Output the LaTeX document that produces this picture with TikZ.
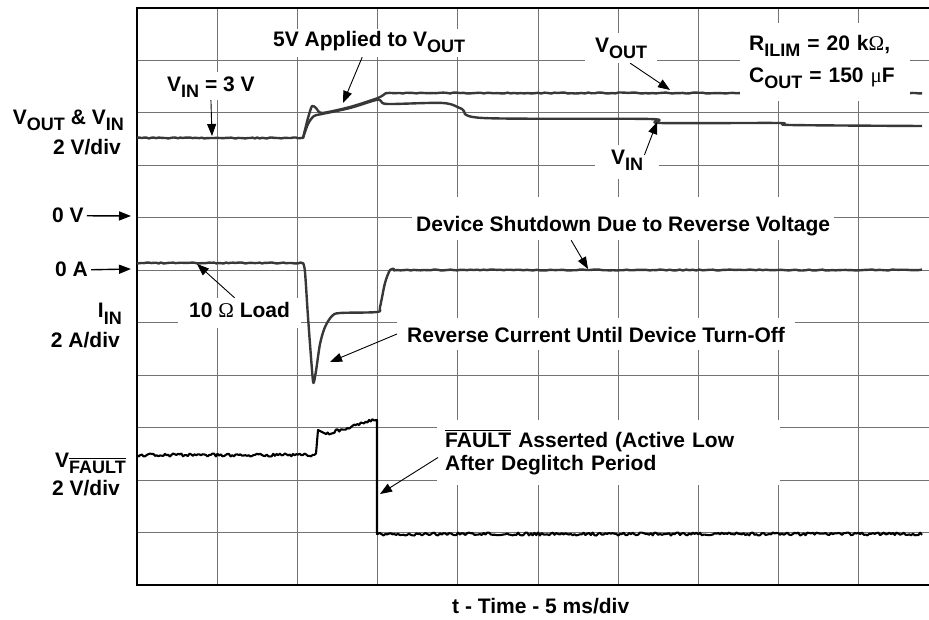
\documentclass[tikz,border=0pt]{standalone}
\usepackage{fontspec}
\setmainfont{Liberation Sans}
\newfontfamily\symfont{Liberation Serif}
\usetikzlibrary{arrows.meta,calc,positioning}
\newcommand{\lowsub}[1]{\raisebox{-6pt}{\fontsize{18}{18}\selectfont #1}}
\newcommand{\barred}[1]{\leavevmode\vbox{\hrule height 1.1pt\kern 1.6pt\hbox{#1}}}

\begin{document}
\begin{tikzpicture}[x=1pt,y=-1pt,
    every node/.style={font=\bfseries\fontsize{21}{24}\selectfont,inner sep=0pt},
    gridline/.style={black!55,line width=0.9pt},
    frame/.style={black,line width=2.6pt},
    trace/.style={black!78,line width=2.4pt,line join=round},
    faulttrace/.style={black,line width=2.1pt,line join=round},
    lbl/.style={fill=white,anchor=base west,inner xsep=4pt,inner ysep=0pt},
    axlbl/.style={anchor=base east},
    annot/.style={black,line width=0.9pt,-{Triangle[length=12pt,width=9pt]}},
    zeroarrow/.style={black,line width=1.4pt,-{Triangle[length=12pt,width=9pt]}}]

    \useasboundingbox (0,0) rectangle (929,620);

    % grid
    \foreach \i in {1,...,9}
        \draw[gridline] ({137+80.2*\i},8) -- ({137+80.2*\i},585);
    \foreach \j in {1,...,10}
        \draw[gridline] (137,{8+52.45*\j}) -- (929,{8+52.45*\j});
    \draw[frame] (929,8) -- (137,8) -- (137,585) -- (929,585);

    \pgfmathsetseed{17}

    % V_IN and V_OUT
    \draw[trace] plot[domain=137:303,samples=70] (\x,{138+0.5*rand})
        --plot[smooth,tension=0.5] coordinates {(303,138) (308,124) (314,116) (322,114) (350,108) (376,100) (381,101) (388,104) (443,103) (462,109) (483,118) (650,119) (660,123) (778,123) (790,125) (922,126)};
    \draw[trace] plot[smooth,tension=0.4] coordinates {(303,138) (308,118) (312,106) (316,108) (322,113) (350,107) (378,98) (386,93)}
        --plot[domain=386:922,samples=160] (\x,{93+0.5*rand});

    % I_IN
    \draw[trace] plot[domain=137:303,samples=70] (\x,{263+0.5*rand})
        --plot[smooth,tension=0.5] coordinates {(303,263) (305,272) (308,317) (312,370) (313.5,383) (316,371) (320,344) (325,327) (332,316) (340,313) (377,312) (380,307) (385,283) (390,270) (394,269)}
        --plot[domain=394:922,samples=160] (\x,{270+0.5*rand});

    % V_FAULT
    \draw[faulttrace] plot[domain=137:316,samples=110] (\x,{455+1.5*rand})
        -- (318,430) -- (326,434)
        --plot[domain=326:374,samples=30] (\x,{434-14*(\x-326)/48+1.5*rand})
        -- (377,420) -- (377,534)
        --plot[domain=378:922,samples=300] (\x,{534+1.5*rand});

    % arrow tips on the traces
    \coordinate (vin3-tip) at (212,136);
    \coordinate (apl-tip) at (343,103);
    \coordinate (vout-tip) at (670,90);
    \coordinate (vin-tip) at (657,122);
    \coordinate (load-tip) at (197,264);
    \coordinate (shut-tip) at (588,269);
    \coordinate (rev-tip) at (330,362);
    \coordinate (flt-tip) at (380,494);
    \coordinate (zv-tip) at (131,216);
    \coordinate (za-tip) at (131,269);

    % labels inside the plot
    \node[lbl,text height=20pt,text depth=8pt] (vin3) at (163,92) {V\lowsub{IN} = 3 V};
    \node[lbl,text height=18pt,text depth=10pt] (apl) at (269,47) {5V Applied to V\lowsub{OUT}};
    \node[lbl,inner xsep=10pt,text height=20pt,text depth=10pt] (voutl) at (585,53) {V\lowsub{OUT}};
    \node[lbl,inner xsep=16pt,text height=20pt,text depth=14pt] (vinl) at (595,165) {V\lowsub{IN}};
    \node[fill=white,anchor=north west,align=left,text width=152pt,inner xsep=9pt,inner ysep=12pt] (rc) at (740,23)
        {R\lowsub{ILIM} = 20 k{\symfont\mdseries Ω},\\[8pt]C\lowsub{OUT} = 150 {\symfont\mdseries μ}F};
    \node[lbl,inner xsep=11pt,text height=20pt,text depth=10pt] (load) at (178,318) {10 {\symfont\mdseries Ω} Load};
    \node[lbl,text height=35pt,text depth=8pt] (shut) at (412,232) {Device Shutdown Due to Reverse Voltage};
    \node[lbl,inner xsep=10pt,text height=24pt,text depth=8pt] (rev) at (397,342) {Reverse Current Until Device Turn-Off};
    \node[fill=white,anchor=north west,align=left,text width=327pt,inner xsep=8pt,inner ysep=10pt] (flt) at (437,420)
        {\barred{FAULT} Asserted (Active Low\\[-1pt]After Deglitch Period};

    % axis labels
    \node[axlbl] (vaxis) at (124,125) {V\lowsub{OUT} \& V\lowsub{IN}};
    \node[axlbl] (vdiv) at (121,155) {2 V/div};
    \node[anchor=base west,inner sep=3pt] (zv) at (49,223) {0 V};
    \node[anchor=base west,inner sep=3pt] (za) at (52,277) {0 A};
    \node[axlbl] (iaxis) at (122,318) {I\lowsub{IN}};
    \node[axlbl] (idiv) at (120,348) {2 A/div};
    \node[axlbl] (faxis) at (126,467) {V\lowsub{\barred{FAULT}}};
    \node[axlbl] (fdiv) at (120,495) {2 V/div};
    \node[anchor=base west] (taxis) at (452,613) {t - Time - 5 ms/div};

    % arrows
    \draw[annot] (vin3.south) -- (vin3-tip);
    \draw[annot] (apl.south) ++(-7,0) -- (apl-tip);
    \draw[annot] (voutl.south) ++(9,0) -- (vout-tip);
    \draw[annot] (vinl.east) ++(-15,-7) -- (vin-tip);
    \draw[annot] (load.north) ++(-5,0) -- (load-tip);
    \draw[annot] (shut.south) ++(-52,0) -- (shut-tip);
    \draw[annot] (rev.west) -- (rev-tip);
    \draw[annot] (flt.west) ++(1,5) -- (flt-tip);
    \draw[zeroarrow] (zv.east) -- (zv-tip);
    \draw[zeroarrow] (za.east) -- (za-tip);
\end{tikzpicture}
\end{document}
